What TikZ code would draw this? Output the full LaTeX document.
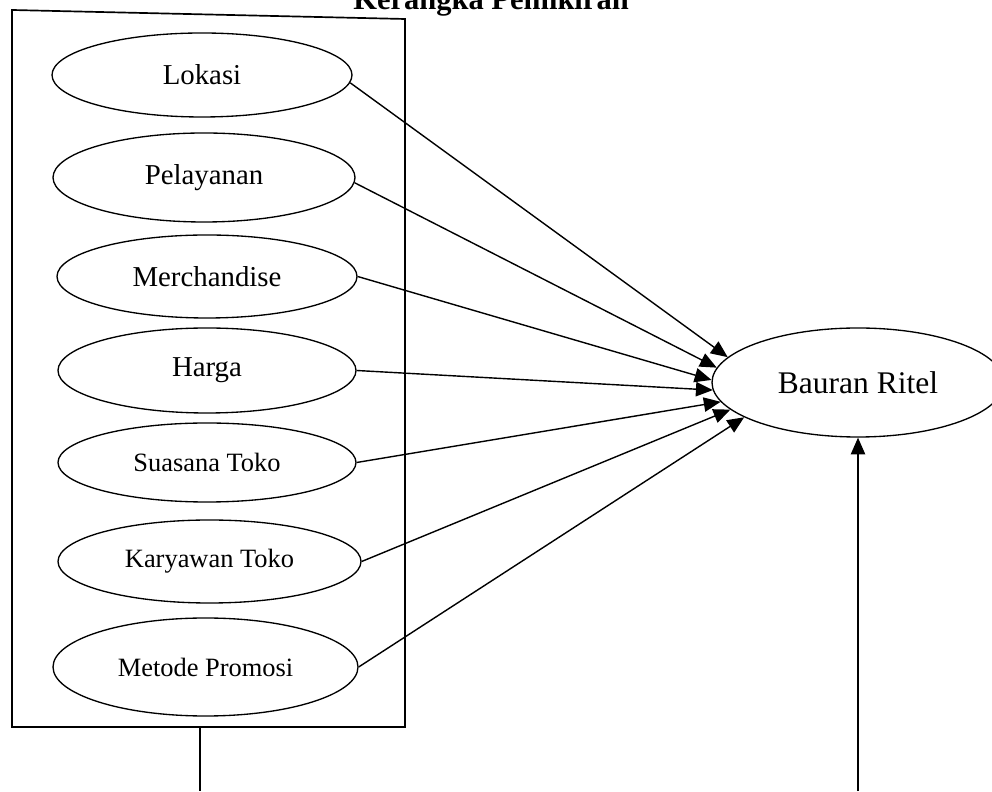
\documentclass[tikz,border=0pt]{standalone}
\usepackage{fontspec}
\setmainfont{Liberation Serif}
\usetikzlibrary{arrows.meta,positioning,shapes.geometric}

\begin{document}
\begin{tikzpicture}[
  faktor/.style={ellipse, draw, line width=0.95pt, inner sep=0pt, minimum width=7.5cm},
  besar/.style={font=\fontsize{20.5}{24}\selectfont},
  kecil/.style={font=\fontsize{18.8}{22}\selectfont},
  panah/.style={-{Triangle[length=0.42cm,width=0.36cm]}, line width=1pt}]
\useasboundingbox (0,0) rectangle (24.8,19.775);
\node[anchor=base, font=\bfseries\fontsize{21.7}{26}\selectfont] (judul) at (12.275,19.525) {Kerangka Pemikiran};
\draw[line width=1.2pt] (0.3,19.525) -- (10.125,19.3) -- (10.125,1.6) -- (0.3,1.6) -- cycle;
\node[faktor, besar, minimum height=2.1cm] (lokasi) at (5.05,17.9) {Lokasi};
\node[faktor, besar, minimum width=7.55cm, minimum height=2.225cm] (pelayanan) at (5.1,15.3375) {Pelayanan};
\node[faktor, besar, minimum height=2.075cm] (merchandise) at (5.175,12.8625) {Merchandise};
\node[faktor, besar, minimum width=7.45cm, minimum height=2.125cm] (harga) at (5.175,10.5125) {Harga};
\node[faktor, kecil, minimum width=7.45cm, minimum height=1.975cm] (suasana) at (5.175,8.2125) {Suasana Toko};
\node[faktor, kecil, minimum width=7.575cm, minimum height=2.075cm] (karyawan) at (5.2375,5.7375) {Karyawan Toko};
\node[faktor, kecil, minimum width=7.625cm, minimum height=2.45cm] (promosi) at (5.1375,3.1) {Metode Promosi};
\node[faktor, font=\fontsize{22.4}{26}\selectfont, minimum width=7.3cm, minimum height=2.725cm] (bauran) at (21.45,10.2125) {Bauran Ritel};
\draw[panah] (lokasi.-3) -- (bauran.169);
\draw[panah] (pelayanan.-2.5) -- (bauran.174);
\draw[panah] (merchandise.east) -- (bauran.179);
\draw[panah] (harga.east) -- (bauran.183);
\draw[panah] (suasana.east) -- (bauran.188);
\draw[panah] (karyawan.east) -- (bauran.192);
\draw[panah] (promosi.east) -- (bauran.197);
\coordinate (kaki) at (5,1.6);
\coordinate (kakibawah) at (5,0);
\draw[line width=1pt] (kaki) -- (kakibawah);
\coordinate (dasar) at (bauran.south |- kakibawah);
\draw[panah] (dasar) -- (bauran.south);
\end{tikzpicture}
\end{document}
